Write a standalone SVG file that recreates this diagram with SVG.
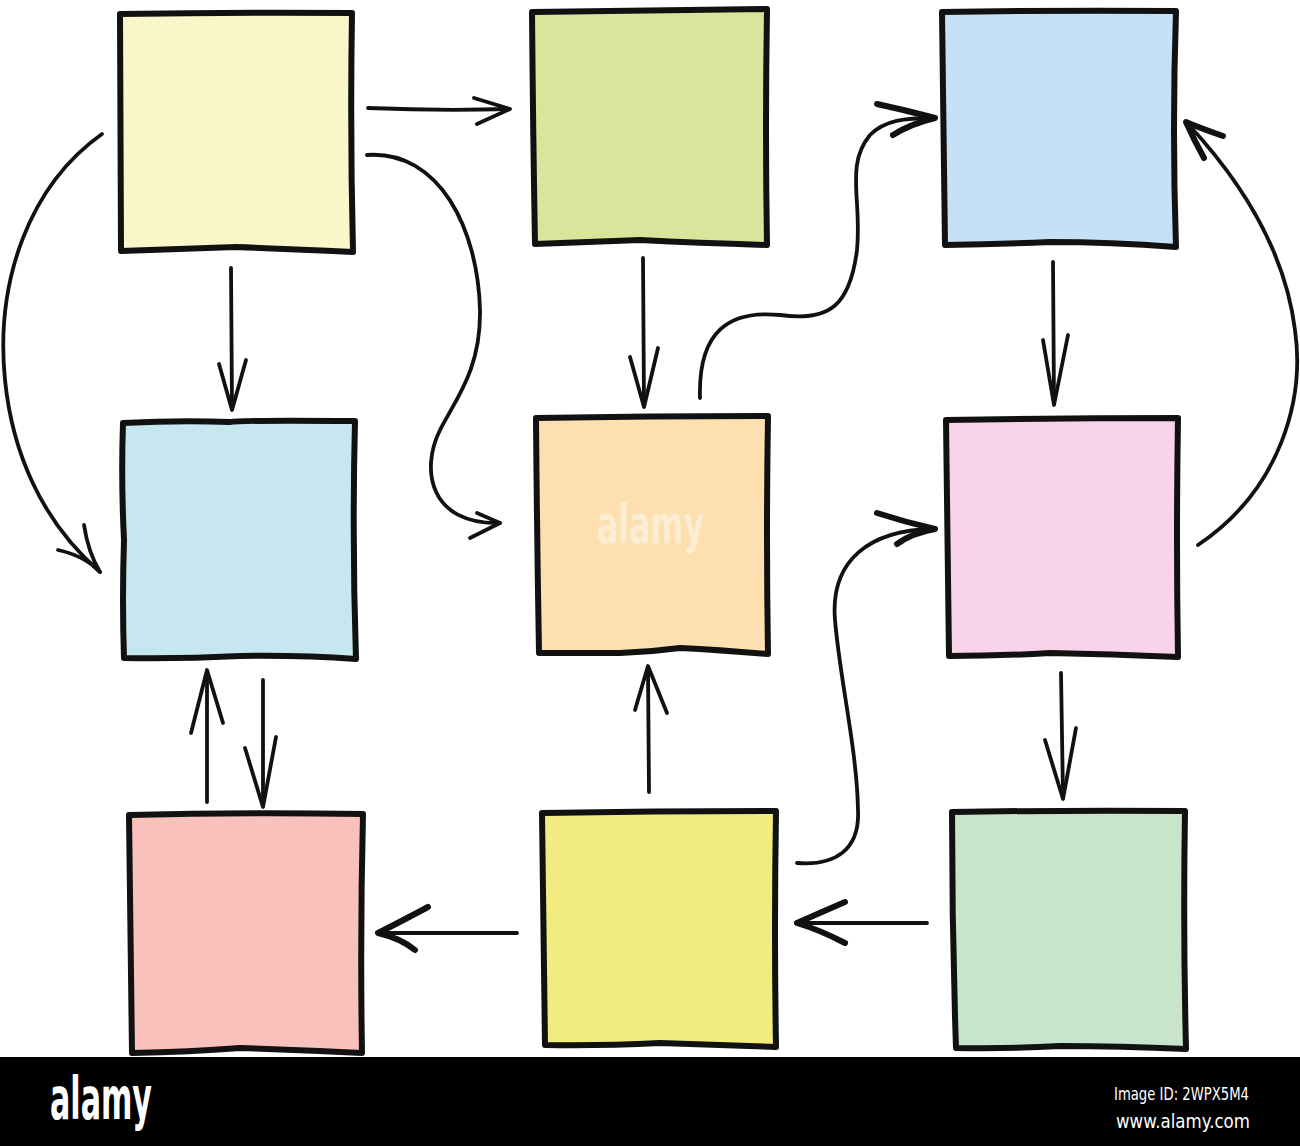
<svg xmlns="http://www.w3.org/2000/svg" width="1300" height="1146" viewBox="0 0 1300 1146">
<style>
.box{stroke:#111;stroke-width:6;stroke-linejoin:round;stroke-linecap:round}
.ln{fill:none;stroke:#111;stroke-width:3.8;stroke-linecap:round;stroke-linejoin:round}
.hd{fill:none;stroke:#111;stroke-width:3.8;stroke-linecap:round;stroke-linejoin:round}
.bh{fill:none;stroke:#111;stroke-width:6;stroke-linecap:round;stroke-linejoin:round}
.wm{font-family:"DejaVu Sans","Liberation Sans",sans-serif;font-weight:bold;fill:#fff}
.ft{font-family:"DejaVu Sans","Liberation Sans",sans-serif;fill:#fff}
</style>
<rect width="1300" height="1146" fill="#fff"/>
<g id="node1"><path class="box" fill="#F9F6C9" d="M120,14 Q236,12 352,13 Q350,130 353,252 Q290,249 236,247 Q180,249 121,251 Q121,130 120,14 Z"/></g>
<g id="node2"><path class="box" fill="#D8E69C" d="M532,12 Q650,10 767,9 Q765,130 767,245 Q700,243 640,240 Q590,242 535,244 Q533,130 532,12 Z"/></g>
<g id="node3"><path class="box" fill="#C6E0F5" d="M942,12 Q1060,10 1176,11 Q1172,130 1176,247 Q1110,242 1050,242 Q1000,244 945,245 Q944,130 942,12 Z"/></g>
<g id="node4"><path class="box" fill="#C6E7EF" d="M123,423 Q180,420 230,422 Q240,420 355,421 Q352,540 356,659 Q300,655 240,656 Q180,659 124,658 Q122,600 124,540 Q121,480 123,423 Z"/></g>
<g id="node5"><path class="box" fill="#FDDFB0" d="M536,418 Q650,416 768,416 Q766,535 768,654 Q720,650 680,648 Q650,652 620,653 Q580,653 539,653 Q537,540 536,418 Z"/></g>
<g id="node6"><path class="box" fill="#F9D3E7" d="M946,420 Q1060,418 1178,418 Q1176,540 1178,657 Q1110,654 1050,653 Q1000,656 949,656 Q947,540 946,420 Z"/></g>
<g id="node7"><path class="box" fill="#F8C1BC" d="M129,815 Q245,812 363,814 Q360,935 362,1053 Q300,1050 240,1048 Q190,1052 132,1053 Q130,935 129,815 Z"/></g>
<g id="node8"><path class="box" fill="#F0EC7F" d="M542,813 Q660,811 776,811 Q774,930 776,1047 Q720,1045 660,1043 Q600,1046 545,1045 Q543,930 542,813 Z"/></g>
<g id="node9"><path class="box" fill="#C8E5CC" d="M952,812 Q1070,810 1185,811 Q1183,930 1186,1049 Q1120,1046 1060,1046 Q1010,1049 956,1048 Q952,930 952,812 Z"/></g>
<g id="connectors">
<path class="ln" d="M368,108 Q440,111 508,109"/><path class="hd" d="M474,98 L510,109 L477,124"/>
<path class="ln" d="M231,268 L232,408"/><path class="hd" d="M219,364 L232,410 L246,360"/>
<path class="ln" d="M102,134 C30,185 -5,280 5,380 C12,450 40,520 100,572"/><path class="hd" d="M58,550 Q85,556 100,572 Q88,552 84,525"/>
<path class="ln" d="M367,155 C440,150 478,230 480,310 C481,370 455,400 440,430 C420,470 430,525 500,523"/><path class="hd" d="M477,513 L500,523 L470,538"/>
<path class="ln" d="M643,258 L644,405"/><path class="hd" d="M630,357 L644,407 L658,348"/>
<path class="ln" d="M700,398 C698,330 730,310 780,315 C830,322 850,305 857,250 C862,200 845,165 870,135 C885,120 905,118 933,118"/><path class="bh" d="M877,104 Q905,110 935,118 Q910,124 893,135"/>
<path class="ln" d="M1053,262 L1054,403"/><path class="hd" d="M1043,340 L1054,405 L1068,335"/>
<path class="ln" d="M1198,545 C1280,490 1305,400 1295,330 C1285,250 1240,180 1188,124"/><path class="bh" d="M1223,136 Q1200,128 1186,122 Q1194,140 1204,158"/>
<path class="ln" d="M1061,673 L1063,797"/><path class="hd" d="M1045,740 L1063,799 L1076,728"/>
<path class="ln" d="M797,863 C835,866 860,850 858,810 C857,750 840,680 835,620 C830,560 870,530 933,529"/><path class="bh" d="M877,513 Q905,522 935,529 Q912,533 897,544"/>
<path class="ln" d="M649,792 L648,668"/><path class="hd" d="M635,710 L648,666 L667,713"/>
<path class="ln" d="M927,923 L800,923"/><path class="bh" d="M845,902 Q815,915 797,923 Q820,930 845,943"/>
<path class="ln" d="M517,933 L380,933"/><path class="bh" d="M428,907 Q400,922 378,933 Q400,938 415,950"/>
<path class="ln" d="M207,802 L207,672"/><path class="hd" d="M191,733 L207,670 L223,723"/>
<path class="ln" d="M263,680 L263,805"/><path class="hd" d="M245,748 L263,807 L276,737"/>
</g>
<text class="wm" x="597" y="543" font-size="54" textLength="107" lengthAdjust="spacingAndGlyphs" fill-opacity="0.45">alamy</text>
<rect x="0" y="1057" width="1300" height="89" fill="#000"/>
<text class="wm" x="50" y="1119" font-size="58" textLength="102" lengthAdjust="spacingAndGlyphs">alamy</text>
<text class="ft" x="1114" y="1100" font-size="17" textLength="135" lengthAdjust="spacingAndGlyphs">Image ID: 2WPX5M4</text>
<text class="ft" x="1116" y="1128" font-size="19" textLength="134" lengthAdjust="spacingAndGlyphs">www.alamy.com</text>
</svg>
